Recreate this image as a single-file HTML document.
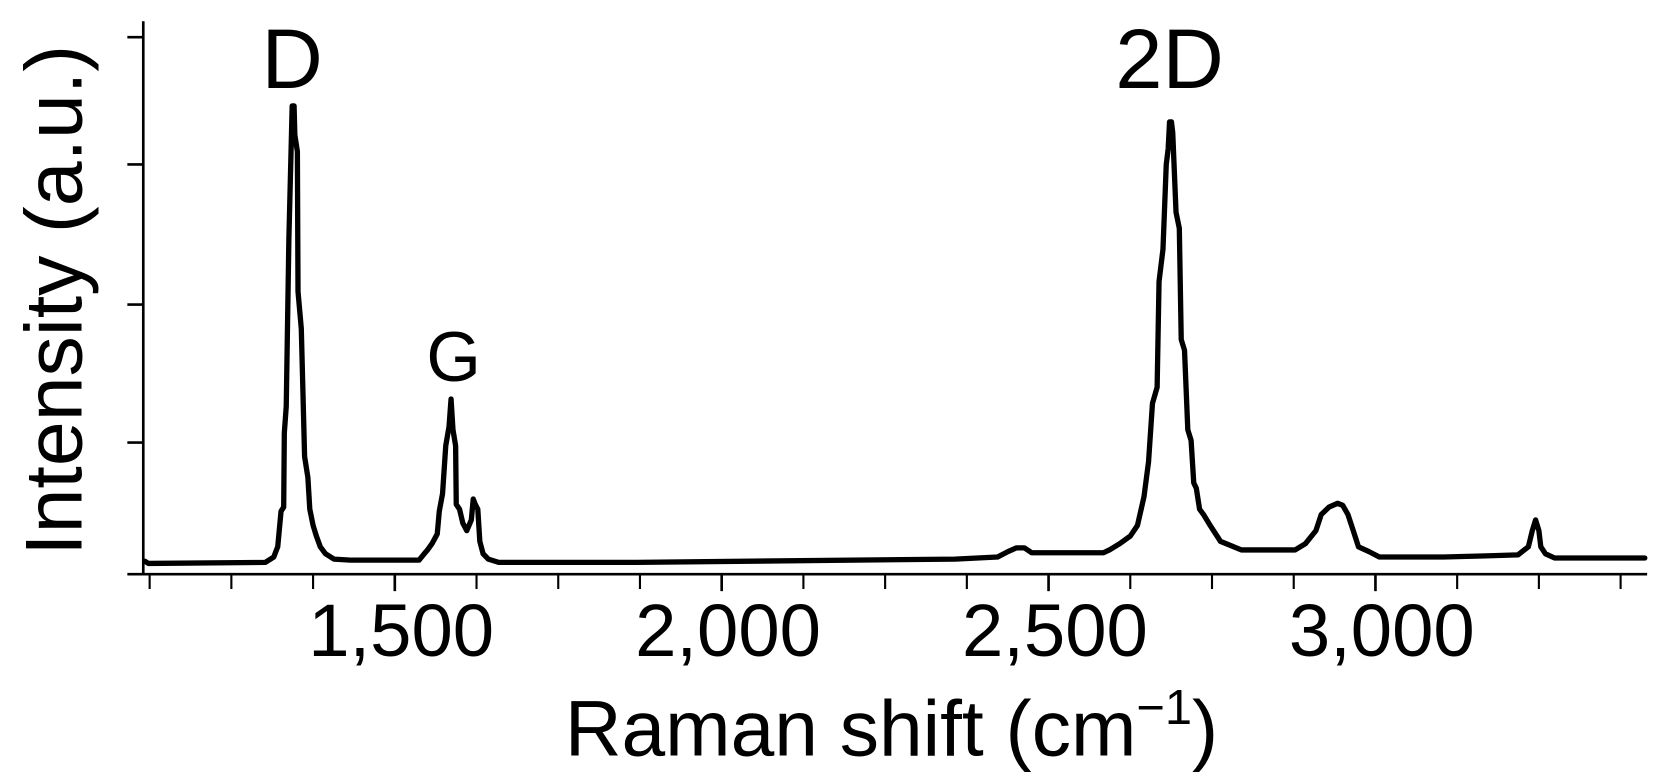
<!DOCTYPE html>
<html><head><meta charset="utf-8"><style>
html,body{margin:0;padding:0;background:#fff;}
svg{display:block;font-family:"Liberation Sans","DejaVu Sans",sans-serif;}
</style></head><body>
<svg id="chart" width="1662" height="782" viewBox="0 0 1662 782" xmlns="http://www.w3.org/2000/svg">
<g transform="scale(1.0613)">
<g id="axes"></g>
<g id="series"></g>
<g id="labels"></g>
</g>
</svg>
<script>
const shifts = [1118,1123,1302,1315,1318,1321,1326,1330,1331,1334,1338,1343,1346,1347,1351,1352,1357,1362,1367,1370,1375,1380,1386,1394,1407,1432,1481,1537,1545,1550,1557,1565,1568,1573,1578,1583,1586,1589,1593,1594,1599,1604,1610,1617,1620,1623,1627,1630,1635,1643,1659,1870,2357,2422,2438,2451,2463,2474,2520,2584,2593,2609,2625,2636,2646,2653,2659,2666,2669,2675,2680,2683,2685,2688,2690,2695,2700,2703,2708,2713,2718,2722,2726,2731,2737,2747,2763,2795,2877,2893,2909,2917,2929,2942,2950,2958,2966,2974,2990,3006,3104,3169,3218,3234,3240,3245,3250,3253,3260,3274,3412];
const intensity = [2.4,2.0,2.2,3.2,4.2,5.1,11.7,12.5,26.3,31.2,62.5,87.2,87.2,81.8,78.7,52.6,45.7,21.9,18.0,12.1,9.1,7.1,5.1,3.8,2.8,2.6,2.6,2.6,3.8,4.5,5.7,7.5,11.7,15.0,23.9,27.5,32.6,26.9,23.9,13.0,12.1,9.5,8.1,10.1,14.0,13.0,12.1,6.1,3.8,2.8,2.2,2.2,2.8,3.2,4.2,4.9,4.9,4.0,4.0,4.0,4.5,5.7,7.1,9.1,14.4,20.9,31.8,34.8,54.5,60.5,76.3,79.2,84.2,84.2,82.2,67.4,64.4,43.7,41.7,26.9,24.9,17.0,16.0,12.1,11.1,9.1,6.1,4.5,4.5,5.7,8.1,11.1,12.5,13.2,12.8,11.1,8.1,5.1,4.2,3.2,3.2,3.4,3.6,5.1,8.1,10.1,8.1,5.1,3.8,3.0,3.0];
const xMajorTicks = [1500,2000,2500,3000];
const xMajorLabels = ["1,500","2,000","2,500","3,000"];
const xMinorTicks = [1125,1250,1375,1625,1750,1875,2125,2250,2375,2625,2750,2875,3125,3250,3375];
const yTicks = [24.5,50.2,76.3,100];
const peakNames = ["D","G","2D"];
const peakShifts = [1343,1590,2685];
const peakLabelIntensity = [100,45.5,100];
const peakFontSizes = [80,66,80];

const NS="http://www.w3.org/2000/svg";
function xS(w){return 372+(w-1500)*0.616;}
function yS(v){return 541-v*5.06;}
function mk(tag,attrs,parent){const e=document.createElementNS(NS,tag);for(const k in attrs)e.setAttribute(k,attrs[k]);parent.appendChild(e);return e;}
const axes=document.getElementById('axes'),series=document.getElementById('series'),labels=document.getElementById('labels');

let e=mk('line',{x1:120,y1:541,x2:1552,y2:541,stroke:'#000','stroke-width':2.5},axes);


e=mk('line',{x1:135,y1:20,x2:135,y2:542,stroke:'#000','stroke-width':2.5},axes);



xMajorTicks.forEach((w,i)=>{
  const t=mk('line',{x1:xS(w),y1:541,x2:xS(w),y2:557,stroke:'#000','stroke-width':2.5},axes);
  
  
  const l=mk('text',{x:xS(w)+6,y:618,'font-size':70,'text-anchor':'middle',fill:'#000'},labels);
  l.textContent=xMajorLabels[i];
  
  
});
xMinorTicks.forEach(w=>{
  const t=mk('line',{x1:xS(w),y1:541,x2:xS(w),y2:555,stroke:'#000','stroke-width':2},axes);
  
  
});
yTicks.forEach(v=>{
  const t=mk('line',{x1:120,y1:yS(v),x2:135,y2:yS(v),stroke:'#000','stroke-width':2.5},axes);
  
  
});

const pts=shifts.map((w,i)=>xS(w).toFixed(1)+','+yS(intensity[i]).toFixed(1)).join(' ');
const pl=mk('polyline',{points:pts,fill:'none',stroke:'#000','stroke-width':5,'stroke-linejoin':'round','stroke-linecap':'round'},series);



peakNames.forEach((n,i)=>{
  const t=mk('text',{x:xS(peakShifts[i]),y:yS(peakLabelIntensity[i])+48,'font-size':peakFontSizes[i],'text-anchor':'middle',fill:'#000'},labels);
  t.textContent=n;
  
  
});

const xt=mk('text',{x:840,y:712,'font-size':74,'text-anchor':'middle',fill:'#000'},labels);
xt.innerHTML='Raman shift (cm<tspan font-size="46" dy="-30">−1</tspan><tspan dy="30">)</tspan>';


const yt=mk('text',{x:0,y:0,'font-size':76,'text-anchor':'middle',fill:'#000',transform:'translate(77,283) rotate(-90)'},labels);
yt.textContent='Intensity (a.u.)';


</script>
</body></html>
